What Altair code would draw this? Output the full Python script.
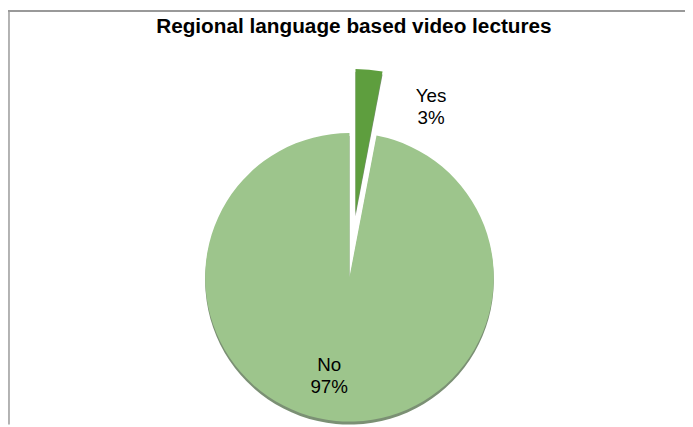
import altair as alt
import pandas as pd

title_text = "Regional language based video lectures"
categories = ["Yes", "No"]
values = [3, 97]
colors = ["#5E9E3E", "#9DC58C"]

df = pd.DataFrame({"cat": categories, "value": values, "idx": list(range(len(categories)))})
total = sum(values)

W, H = 685, 419
CENTRES = {"Yes": (351.6, 205.3), "No": (345.5, 270.0)}   # "Yes" slice exploded
LABEL_POS = {"Yes": (428, 93), "No": (325, 365)}
R = 146

stacked = alt.Chart(df).transform_stack(
    stack="value", as_=["v0", "v1"], groupby=[], sort=[alt.SortField("idx", order="ascending")]
)

theta = alt.Theta("v0:Q", scale=alt.Scale(domain=[0, total]))
theta2 = alt.Theta2("v1:Q")
color = alt.Color("cat:N", scale=alt.Scale(domain=categories, range=colors), legend=None)

layers = []
# shadows
for c in categories:
    cx, cy = CENTRES[c]
    layers.append(
        stacked.transform_filter(alt.datum.cat == c)
        .mark_arc(outerRadius=R, color="#4f6b45", opacity=0.75)
        .encode(theta=theta, theta2=theta2, x=alt.value(cx), y=alt.value(cy + 3))
    )
# slices
for c in categories:
    cx, cy = CENTRES[c]
    layers.append(
        stacked.transform_filter(alt.datum.cat == c)
        .mark_arc(outerRadius=R)
        .encode(theta=theta, theta2=theta2, color=color, x=alt.value(cx), y=alt.value(cy))
    )
# labels
for c in categories:
    lx, ly = LABEL_POS[c]
    layers.append(
        alt.Chart(df).transform_filter(alt.datum.cat == c)
        .transform_calculate(label="[datum.cat, datum.value + '%']")
        .mark_text(font="Liberation Sans", fontSize=19, color="#000000",
                   baseline="alphabetic", align="center", lineHeight=22)
        .encode(text="label:N", x=alt.value(lx), y=alt.value(ly))
    )

title = alt.Chart(alt.Data(values=[{}])).mark_text(
    text=title_text, font="Liberation Sans", fontSize=21, fontWeight="bold",
    color="#000000", baseline="alphabetic", align="center"
).encode(x=alt.value(350), y=alt.value(23))

frame_top = alt.Chart(alt.Data(values=[{}])).mark_rule(color="#999999", strokeWidth=2).encode(
    x=alt.value(0), x2=alt.value(W), y=alt.value(0.5)
)
frame_left = alt.Chart(alt.Data(values=[{}])).mark_rule(color="#999999", strokeWidth=1.5).encode(
    x=alt.value(1), y=alt.value(0), y2=alt.value(H)
)

chart = alt.layer(frame_top, frame_left, *layers, title).properties(
    width=W, height=H, autosize=alt.AutoSizeParams(type="none"), padding=0
).configure_view(stroke=None)

chart.save("out.html", embed_options={"renderer": "svg", "actions": False})
